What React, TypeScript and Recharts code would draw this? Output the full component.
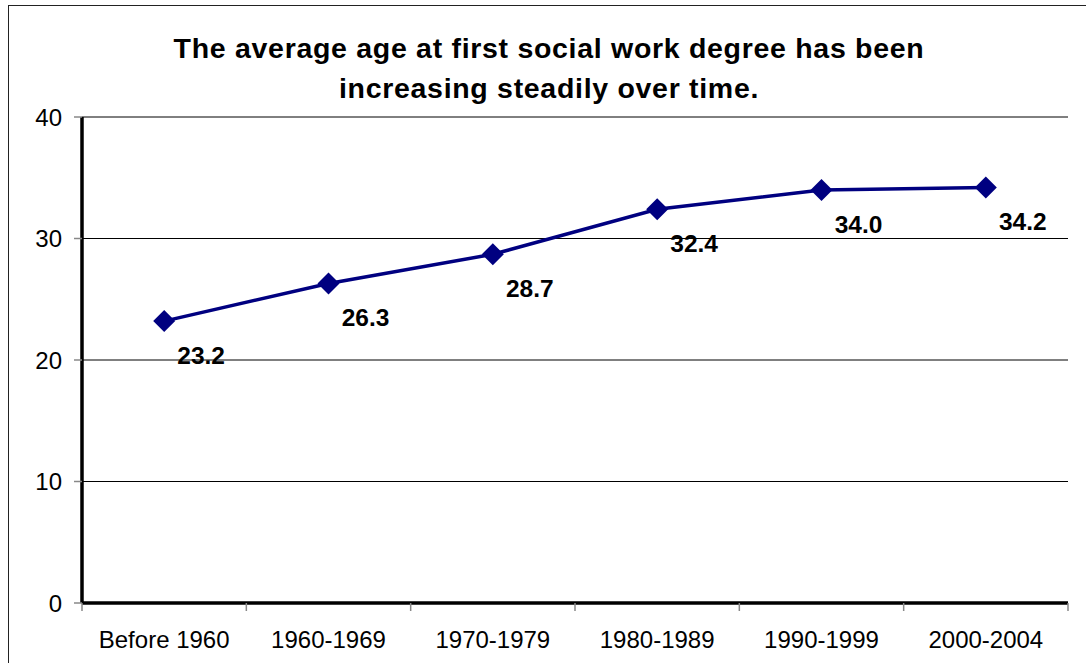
import { LineChart, Line, XAxis, YAxis, CartesianGrid, LabelList } from 'recharts';

// Average age at first social work degree, by period of graduation
const periods = ['Before 1960', '1960-1969', '1970-1979', '1980-1989', '1990-1999', '2000-2004'];
const avgAge = [23.2, 26.3, 28.7, 32.4, 34.0, 34.2];
const yTicks = [0, 10, 20, 30, 40];
const titleLines = [
  'The average age at first social work degree has been',
  'increasing steadily over time.',
];

const data = periods.map((period, i) => ({ period, age: avgAge[i] }));

const WIDTH = 1086;
const HEIGHT = 663;
const MARGIN = { top: 117, right: 18, bottom: 0, left: 22 };
const Y_AXIS_WIDTH = 60;
const FONT = '"Liberation Sans", Arial, sans-serif';

const plotWidth = WIDTH - MARGIN.left - MARGIN.right - Y_AXIS_WIDTH;
const halfBand = plotWidth / periods.length / 2;

// Category label at the band centre, tick marks at the band edges
function PeriodTick({ x, y, payload, index, visibleTicksCount }: any) {
  const last = index === (visibleTicksCount ?? periods.length) - 1;
  return (
    <g>
      <line x1={x - halfBand} x2={x - halfBand} y1={y} y2={y + 8} stroke="#888" strokeWidth={1.5} />
      {last && <line x1={x + halfBand} x2={x + halfBand} y1={y} y2={y + 8} stroke="#888" strokeWidth={1.5} />}
      <text x={x} y={y + 45} textAnchor="middle" fontSize={24} fontFamily={FONT} fill="#000">
        {payload.value}
      </text>
    </g>
  );
}

function Diamond({ cx, cy }: any) {
  const r = 11;
  return <path d={`M${cx} ${cy - r} L${cx + r} ${cy} L${cx} ${cy + r} L${cx - r} ${cy} Z`} fill="#000080" />;
}

function ValueLabel({ x, y, value }: any) {
  return (
    <text x={x + 37} y={y + 43} textAnchor="middle" fontSize={24.5} fontWeight="bold" fontFamily={FONT} fill="#000">
      {Number(value).toFixed(1)}
    </text>
  );
}

export default function App() {
  return (
    <div style={{ position: 'absolute', left: 0, top: 0, width: WIDTH, height: HEIGHT, overflow: 'hidden', background: '#fff' }}>
      <div style={{ position: 'absolute', left: 8, top: 5, width: 1200, height: 800, border: '1px solid #222' }} />
      <div
        style={{
          position: 'absolute',
          left: 8,
          top: 28,
          width: 1082,
          textAlign: 'center',
          fontFamily: FONT,
          fontWeight: 'bold',
          fontSize: 28.5,
          letterSpacing: '0.7px',
          lineHeight: '40px',
        }}
      >
        {titleLines.map((t) => (
          <div key={t}>{t}</div>
        ))}
      </div>
      <div style={{ position: 'absolute', left: 0, top: 0 }}>
        <LineChart width={WIDTH} height={HEIGHT} data={data} margin={MARGIN}>
          <CartesianGrid vertical={false} stroke="#000" strokeWidth={1} />
          <XAxis
            dataKey="period"
            scale="band"
            height={HEIGHT - 603 - MARGIN.bottom}
            tickSize={0}
            tickMargin={0}
            tickLine={false}
            axisLine={{ stroke: '#000', strokeWidth: 3.5 }}
            tick={<PeriodTick />}
            interval={0}
          />
          <XAxis xAxisId="top" orientation="top" height={0} tick={false} tickLine={false} axisLine={{ stroke: '#000', strokeWidth: 3.5 }} />
          <YAxis
            domain={[0, 40]}
            ticks={yTicks}
            width={Y_AXIS_WIDTH}
            tickSize={8}
            tickMargin={12}
            tickLine={{ stroke: '#888', strokeWidth: 1.5 }}
            axisLine={{ stroke: '#000', strokeWidth: 3.5 }}
            tick={{ fill: '#000', fontSize: 24, fontFamily: FONT }}
          />
          <YAxis yAxisId="right" orientation="right" width={0} tick={false} tickLine={false} axisLine={{ stroke: '#000', strokeWidth: 3.5 }} />
          <Line
            type="linear"
            dataKey="age"
            stroke="#000080"
            strokeWidth={3.5}
            dot={<Diamond />}
            activeDot={false}
            isAnimationActive={false}
          >
            <LabelList dataKey="age" content={<ValueLabel />} />
          </Line>
        </LineChart>
      </div>
    </div>
  );
}
